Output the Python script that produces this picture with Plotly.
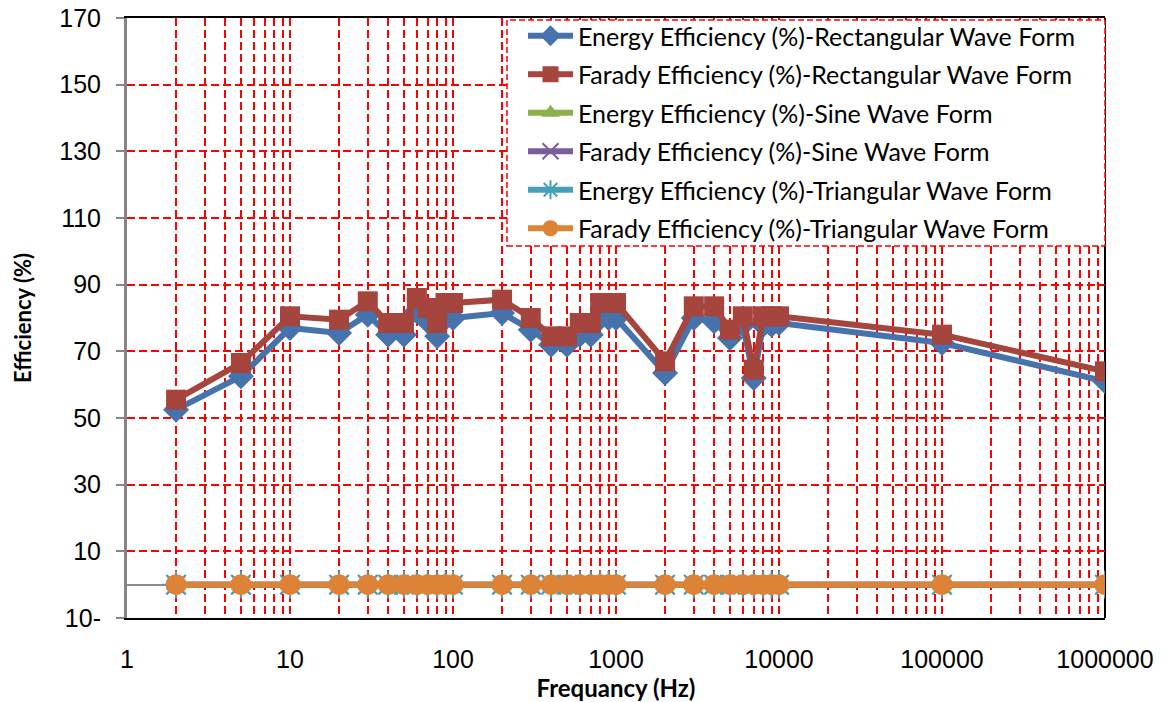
import plotly.graph_objects as go

# ---- data ----
freq = [2, 5, 10, 20, 30, 40, 50, 60, 70, 80, 90, 100, 200, 300, 400, 500, 600, 700,
        800, 900, 1000, 2000, 3000, 4000, 5000, 6000, 7000, 8000, 9000, 10000, 100000, 1000000]
energy_rect = [52.5, 62.5, 77, 75.5, 81, 75, 75, 82, 79, 74.5, 80, 80, 81.5, 76.5, 72, 72,
               75, 75, 80, 80, 80, 63.5, 80, 79, 74, 78, 62, 78, 78, 78.5, 72.5, 61]
farady_rect = [55.5, 66.5, 80.5, 79.5, 85, 78.5, 78.5, 86, 83, 78.5, 84.5, 84.5, 85.5, 80,
               74.5, 74.5, 78.5, 78.5, 84.5, 84.5, 84.5, 67, 83.5, 83.5, 76.5, 80.5, 64.5,
               80.5, 80.5, 80.5, 75, 64]
energy_sine = [0] * len(freq)
farady_sine = [0] * len(freq)
energy_tri = [0] * len(freq)
farady_tri = [0] * len(freq)

series_names = [
    "Energy Efficiency (%)-Rectangular Wave Form",
    "Farady Efficiency (%)-Rectangular Wave Form",
    "Energy Efficiency (%)-Sine Wave Form",
    "Farady Efficiency (%)-Sine Wave Form",
    "Energy Efficiency (%)-Triangular Wave Form",
    "Farady Efficiency (%)-Triangular Wave Form",
]
y_tickvals = [-10, 10, 30, 50, 70, 90, 110, 130, 150, 170]
y_ticktext = ["10-", "10", "30", "50", "70", "90", "110", "130", "150", "170"]
x_tickvals = [1, 10, 100, 1000, 10000, 100000, 1000000]
x_ticktext = ["1", "10", "100", "1000", "10000", "100000", "1000000"]

colors = ["#4673AC", "#A6443E", "#8CB04E", "#7A5C9F", "#45A0BA", "#DC8338"]
symbols = ["diamond", "square", "triangle-up", "x-thin-open", "asterisk-open", "circle"]
sizes = [20, 20, 18, 18, 23, 21]
values = [energy_rect, farady_rect, energy_sine, farady_sine, energy_tri, farady_tri]

fig = go.Figure()
for i, (name, vals) in enumerate(zip(series_names, values)):
    marker = dict(symbol=symbols[i], size=sizes[i], color=colors[i])
    if symbols[i].endswith("open"):
        marker["line"] = dict(color=colors[i], width=2)
    fig.add_trace(go.Scatter(
        x=freq, y=vals, name=name, mode="lines+markers",
        line=dict(color=colors[i], width=6),
        marker=marker, legendgroup=f"g{i}",
    ))

minor_vals = [m * 10 ** d for d in range(0, 6) for m in range(2, 10)]

W, H = 1166, 702
L, R, T, B = 127, 61, 18, 84
pw, ph = W - L - R, H - T - B

def px_x(px):
    return (px - L) / pw

def px_y(py):
    return (H - B - py) / ph

grid_color = "#FF0000"
fig.update_layout(
    width=W, height=H,
    margin=dict(l=L, r=R, t=T, b=B, autoexpand=False),
    paper_bgcolor="white", plot_bgcolor="white",
    font=dict(family="Liberation Sans, Arial", size=25, color="black"),
    showlegend=True,
    legend=dict(
        x=px_x(523), y=px_y(13), xanchor="left", yanchor="top",
        bgcolor="rgba(0,0,0,0)", borderwidth=0,
        font=dict(family="Lato", size=25, color="black"),
        traceorder="grouped", tracegroupgap=3, itemwidth=45,
    ),
    xaxis=dict(
        type="log", range=[0, 6], automargin=False,
        tickmode="array", tickvals=x_tickvals, ticktext=x_ticktext,
        ticks="", ticklabelstandoff=18,
        showline=True, linecolor="black", linewidth=2, mirror=True,
        showgrid=True, gridcolor=grid_color, gridwidth=2, griddash="8px,4px",
        minor=dict(tickmode="array", tickvals=minor_vals, showgrid=True,
                   gridcolor=grid_color, gridwidth=2, griddash="8px,4px", ticks=""),
        zeroline=False,
        title=dict(text="<b>Frequancy (Hz)</b>", font=dict(family="Lato", size=24), standoff=2),
    ),
    yaxis=dict(
        range=[-10, 170], automargin=False,
        tickmode="array", tickvals=y_tickvals, ticktext=y_ticktext,
        ticks="outside", ticklen=8, tickwidth=2, tickcolor="#868686",
        ticklabelstandoff=10,
        showline=True, linecolor="#868686", linewidth=3, mirror=False,
        showgrid=True, gridcolor=grid_color, gridwidth=2, griddash="8px,4px",
        zeroline=True, zerolinecolor="#8C8C8C", zerolinewidth=2,
        title=dict(text="<b>Efficiency (%)</b>", font=dict(family="Lato", size=22), standoff=22),
    ),
    shapes=[
        # right border of plot area
        dict(type="line", xref="paper", yref="paper", x0=1, x1=1, y0=0, y1=1,
             line=dict(color="black", width=2), layer="below"),
        # legend frame
        dict(type="rect", xref="paper", yref="paper",
             x0=px_x(507), x1=px_x(1105), y0=px_y(246), y1=px_y(20),
             fillcolor="white", line=dict(color=grid_color, width=1.5, dash="6px,3px"),
             layer="above"),
    ],
)

fig.write_html("out.html", config={"displayModeBar": False},
               post_script="document.body.style.margin='0';")
